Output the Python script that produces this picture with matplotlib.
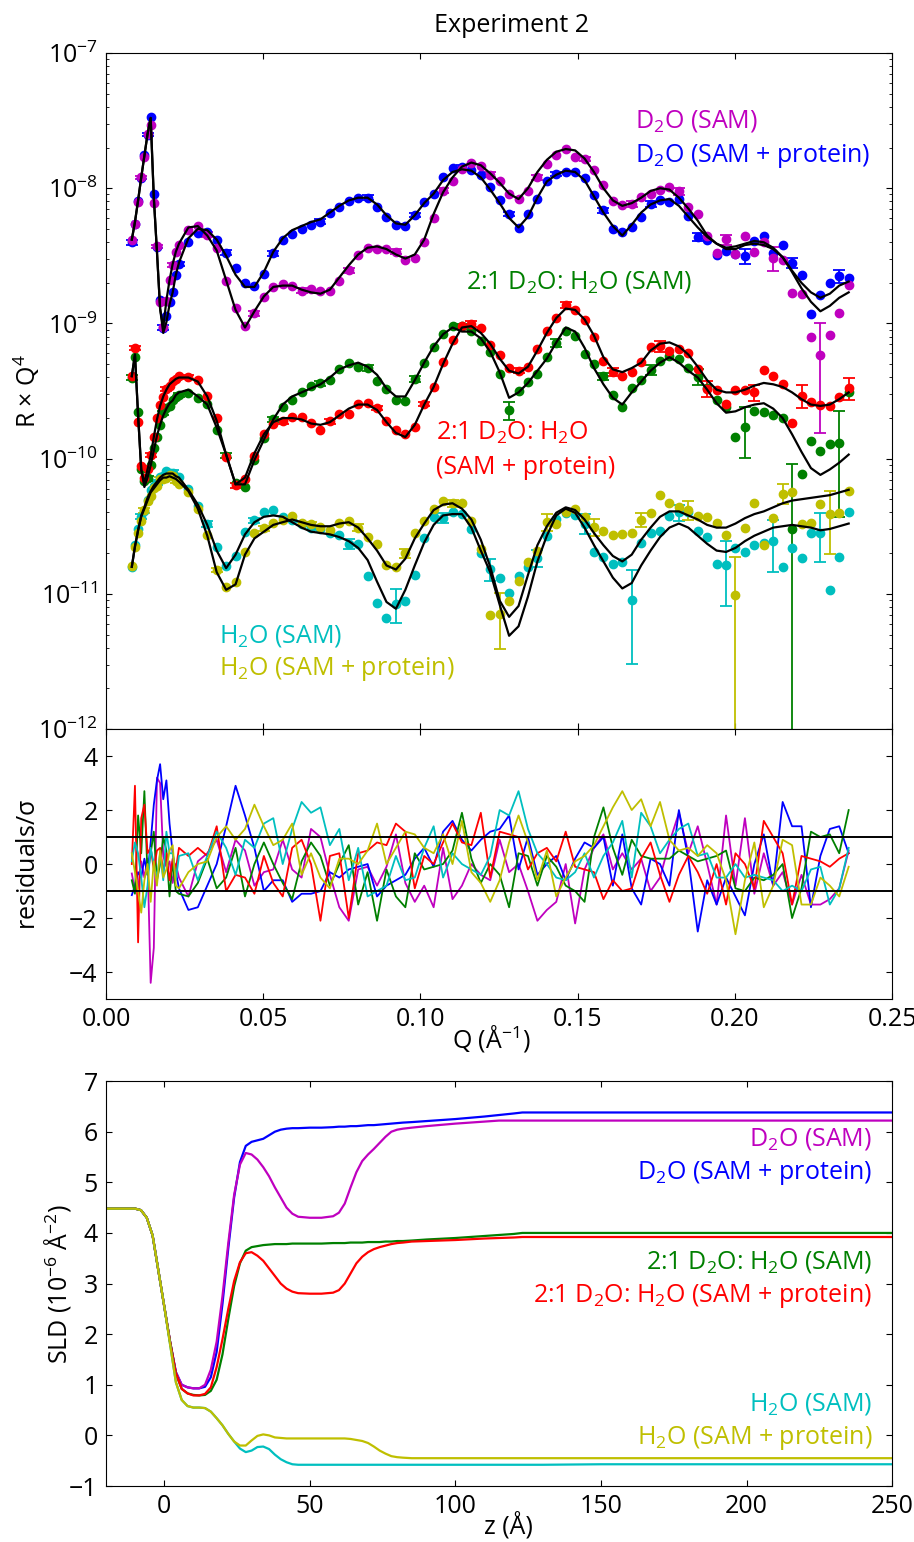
import matplotlib
matplotlib.use('agg')
import matplotlib.pyplot as plt
import numpy as np

plt.rcParams['font.family'] = ['Open Sans', 'DejaVu Sans']
plt.rcParams['mathtext.fontset'] = 'custom'
plt.rcParams['mathtext.rm'] = 'Open Sans'
plt.rcParams['mathtext.it'] = 'Open Sans:italic'
plt.rcParams['mathtext.bf'] = 'Open Sans:bold'
plt.rcParams['mathtext.default'] = 'regular'
plt.rcParams['font.size'] = 18
plt.rcParams['xtick.direction'] = 'in'
plt.rcParams['ytick.direction'] = 'in'
plt.rcParams['xtick.top'] = True
plt.rcParams['ytick.right'] = True
plt.rcParams['xtick.major.size'] = 4.5
plt.rcParams['ytick.major.size'] = 4.5
plt.rcParams['xtick.minor.size'] = 2.2
plt.rcParams['ytick.minor.size'] = 2.2
plt.rcParams['xtick.major.pad'] = 6
plt.rcParams['ytick.major.pad'] = 6

# ---------------- reflectivity data ----------------
Q = [0.0082, 0.0092, 0.0102, 0.0112, 0.0122, 0.0132, 0.0142, 0.0152, 0.0162, 0.0172,
     0.0182, 0.0192, 0.0202, 0.0212, 0.0222, 0.0232,
     0.0262, 0.0292, 0.0322, 0.0352, 0.0382, 0.0412, 0.0442, 0.0472, 0.0502, 0.0532,
     0.0562, 0.0592, 0.0622, 0.0652, 0.0682, 0.0712, 0.0742, 0.0772, 0.0802, 0.0832,
     0.0862, 0.0892, 0.0922, 0.0952, 0.0982, 0.1012, 0.1042, 0.1072, 0.1102, 0.1132,
     0.1162, 0.1192, 0.1222, 0.1252, 0.1282, 0.1312, 0.1342, 0.1372, 0.1402, 0.1432,
     0.1462, 0.1492, 0.1522, 0.1552, 0.1582, 0.1612, 0.1642, 0.1672, 0.1702, 0.1732,
     0.1762, 0.1792, 0.1822, 0.1852, 0.1882, 0.1912, 0.1942, 0.1972, 0.2002, 0.2032,
     0.2062, 0.2092, 0.2122, 0.2152, 0.2182, 0.2212, 0.2242, 0.2272, 0.2302, 0.2332,
     0.2362]

# log10 of fitted R x Q^4
fit_d2o_sam = [-8.38, -8.25, -8.09, -7.92, -7.76, -7.60, -7.48, -8.07, -8.47, -8.89,
               -9.03, -8.83, -8.68, -8.56, -8.47, -8.41,
               -8.29, -8.28, -8.35, -8.46, -8.68, -8.90, -9.03, -8.91, -8.80, -8.73,
               -8.72, -8.72, -8.75, -8.77, -8.78, -8.75, -8.66, -8.57, -8.49, -8.44,
               -8.43, -8.45, -8.49, -8.52, -8.49, -8.38, -8.19, -8.03, -7.92, -7.84,
               -7.81, -7.83, -7.89, -7.96, -8.04, -8.08, -8.00, -7.88, -7.79, -7.73,
               -7.71, -7.72, -7.78, -7.88, -8.00, -8.09, -8.13, -8.11, -8.07, -8.02,
               -8.00, -8.01, -8.07, -8.15, -8.24, -8.35, -8.41, -8.45, -8.45, -8.42,
               -8.41, -8.42, -8.45, -8.51, -8.62, -8.74, -8.84, -8.91, -8.87, -8.81,
               -8.77]
fit_d2o_prot = [-8.38, -8.25, -8.09, -7.92, -7.76, -7.60, -7.48, -8.07, -8.47, -8.89,
                -9.07, -8.99, -8.86, -8.77, -8.64, -8.55,
                -8.37, -8.30, -8.31, -8.38, -8.50, -8.64, -8.73, -8.73, -8.62, -8.47,
                -8.37, -8.31, -8.28, -8.25, -8.23, -8.18, -8.13, -8.09, -8.07, -8.07,
                -8.12, -8.20, -8.26, -8.27, -8.20, -8.11, -8.04, -7.94, -7.88, -7.86,
                -7.87, -7.92, -8.01, -8.11, -8.22, -8.29, -8.21, -8.07, -7.95, -7.90,
                -7.87, -7.88, -7.94, -8.06, -8.18, -8.28, -8.35, -8.27, -8.18, -8.12,
                -8.09, -8.08, -8.13, -8.21, -8.29, -8.36, -8.41, -8.44, -8.43, -8.41,
                -8.39, -8.40, -8.44, -8.51, -8.61, -8.70, -8.77, -8.81, -8.78, -8.72,
                -8.69]
fit_mix_sam = [-9.39, -9.23, -9.68, -10.08, -10.21, -10.14, -10.05, -9.94, -9.83, -9.75,
               -9.68, -9.63, -9.59, -9.57, -9.53, -9.51,
               -9.49, -9.54, -9.60, -9.77, -9.97, -10.19, -10.19, -10.01, -9.86, -9.71,
               -9.60, -9.54, -9.51, -9.48, -9.45, -9.40, -9.34, -9.31, -9.29, -9.32,
               -9.38, -9.48, -9.54, -9.54, -9.42, -9.29, -9.17, -9.08, -9.03, -9.06,
               -9.06, -9.11, -9.21, -9.36, -9.55, -9.51, -9.44, -9.35, -9.26, -9.14,
               -9.03, -9.06, -9.18, -9.33, -9.45, -9.55, -9.60, -9.51, -9.43, -9.35,
               -9.29, -9.25, -9.29, -9.35, -9.40, -9.49, -9.59, -9.66, -9.65, -9.62,
               -9.60, -9.59, -9.63, -9.70, -9.82, -9.95, -10.07, -10.12, -10.08, -10.03,
               -9.97]
fit_mix_prot = [-9.39, -9.23, -9.68, -10.08, -10.18, -10.08, -9.98, -9.84, -9.71, -9.61,
                -9.54, -9.49, -9.45, -9.43, -9.41, -9.40,
                -9.40, -9.43, -9.54, -9.72, -9.97, -10.19, -10.14, -9.96, -9.82, -9.73,
                -9.70, -9.70, -9.71, -9.74, -9.75, -9.73, -9.68, -9.63, -9.60, -9.60,
                -9.64, -9.73, -9.81, -9.84, -9.75, -9.60, -9.47, -9.30, -9.15, -9.03,
                -9.02, -9.07, -9.15, -9.26, -9.35, -9.37, -9.32, -9.20, -9.07, -8.96,
                -8.89, -8.90, -8.97, -9.09, -9.25, -9.34, -9.36, -9.33, -9.29, -9.20,
                -9.15, -9.14, -9.17, -9.23, -9.32, -9.42, -9.49, -9.51, -9.51, -9.49,
                -9.46, -9.44, -9.45, -9.47, -9.51, -9.56, -9.60, -9.61, -9.60, -9.56,
                -9.51]
fit_h2o_sam = [-10.80, -10.65, -10.53, -10.42, -10.36, -10.29, -10.24, -10.20, -10.17, -10.14,
               -10.12, -10.11, -10.11, -10.11, -10.13, -10.14,
               -10.23, -10.34, -10.49, -10.68, -10.81, -10.71, -10.56, -10.47, -10.43, -10.42,
               -10.43, -10.47, -10.51, -10.54, -10.55, -10.56, -10.58, -10.61, -10.66, -10.75,
               -10.91, -11.06, -11.11, -10.97, -10.79, -10.62, -10.49, -10.42, -10.41, -10.41,
               -10.51, -10.68, -10.84, -11.08, -11.31, -11.24, -11.02, -10.76, -10.57, -10.42,
               -10.37, -10.40, -10.51, -10.64, -10.76, -10.88, -10.96, -10.92, -10.79, -10.68,
               -10.58, -10.51, -10.48, -10.51, -10.57, -10.63, -10.68, -10.69, -10.66, -10.61,
               -10.57, -10.54, -10.51, -10.50, -10.49, -10.50, -10.51, -10.53, -10.52, -10.50,
               -10.48]
fit_h2o_prot = [-10.80, -10.65, -10.53, -10.43, -10.37, -10.31, -10.25, -10.22, -10.19, -10.16,
                -10.14, -10.14, -10.13, -10.14, -10.15, -10.17,
                -10.24, -10.37, -10.57, -10.84, -10.97, -10.93, -10.71, -10.59, -10.54, -10.49,
                -10.47, -10.45, -10.47, -10.49, -10.50, -10.50, -10.48, -10.47, -10.51, -10.59,
                -10.68, -10.79, -10.82, -10.74, -10.59, -10.48, -10.38, -10.34, -10.33, -10.37,
                -10.45, -10.60, -10.80, -11.05, -11.17, -11.09, -10.86, -10.64, -10.50, -10.40,
                -10.36, -10.38, -10.45, -10.55, -10.64, -10.72, -10.76, -10.71, -10.60, -10.51,
                -10.43, -10.39, -10.39, -10.42, -10.45, -10.49, -10.51, -10.51, -10.48, -10.44,
                -10.41, -10.39, -10.36, -10.33, -10.31, -10.30, -10.29, -10.28, -10.27, -10.25,
                -10.23]

# normalised residuals (data - fit) / sigma
res_d2o_sam = [-0.35, -1.0, -0.9, 0.1, -0.5, 0.2, -4.4, -3.1, 3.2, 3.0, 0.3, -0.1, 0.1, -0.7, 0.0, -0.5,
               -1.2, 0.1, 0.4, 0.9, -0.3, 0.9, 0.5, -0.8, -0.3, -0.2,
               0.9, -0.2, -0.5, 1.3, 1.0, -0.4, -1.6, -2.1, -0.2, -0.1,
               -0.8, -0.1, 1.1, -0.7, -1.4, -0.8, -1.6, 0.6, -1.3, -0.8,
               0.0, -0.4, -0.6, 0.9, -0.3, 0.0, -1.0, -2.1, -1.7, -1.4,
               0.0, -2.2, -0.2, 0.6, 1.1, -0.2, 0.4, -0.2, 0.2, -1.0,
               -0.5, 0.8, 1.9, 0.4, 1.4, 0.0, -1.5, 1.8, -0.8, 1.7,
               -1.1, 0.4, -0.8, -0.3, -1.5, -0.4, -1.5, -1.5, -1.3, -0.9,
               0.5]
res_d2o_prot = [-1.15, -0.8, -0.3, -0.5, 0.2, -0.4, 0.8, 2.2, 3.1, 3.7, 2.4, 3.1, 1.5, 0.4, -0.3, -0.9,
                -1.7, -1.6, -0.8, 0.0, 1.4, 2.9, 1.8, 0.6, -1.0, -0.6,
                -0.6, -1.4, -1.1, -1.1, -1.0, -0.3, -0.5, -0.2, -0.1, 0.0,
                -1.2, -0.8, -0.6, -0.4, 0.2, 0.6, -0.1, 1.2, 1.6, 0.9,
                0.5, 0.9, 1.2, 1.3, 1.8, -0.2, 1.0, -0.4, 0.0, 0.3,
                -0.6, 0.2, 0.8, 0.6, 1.0, -0.8, 1.1, -0.9, -1.5, 0.2,
                0.0, -0.8, 2.0, 0.2, -2.5, -0.6, -1.5, -0.5, -1.2, -1.9,
                0.0, 1.1, -0.8, 2.3, 1.4, 1.4, -1.6, 0.3, 1.3, 1.4,
                0.4]
res_mix_sam = [-0.6, -1.1, 1.8, 0.4, 2.7, -0.4, 0.4, 1.2, -0.6, 0.0, 1.0, 0.5, -1.2, 0.1, -1.0, -1.1,
               -1.2, -0.7, 0.2, -0.9, -0.5, 0.6, -1.2, 0.0, 0.8, 0.0,
               -0.7, -1.3, 0.1, 0.8, 0.3, -0.8, 0.0, 0.7, -1.5, -0.3,
               -2.1, -0.2, -1.2, -1.6, 0.4, -0.2, -0.1, 0.0, 0.5, 1.9,
               0.2, -0.7, 0.0, -0.4, -1.6, 0.4, 0.3, -0.8, 0.3, -0.1,
               -0.8, -1.0, -1.4, 1.0, 2.1, 0.6, -0.4, 0.9, 0.3, 0.2,
               0.2, 0.2, 0.5, 0.3, 0.1, 0.2, 0.3, 0.5, -0.9, -1.0,
               -0.5, -0.6, -0.4, 0.0, -2.0, -0.9, 1.2, 1.0, 1.1, 0.4,
               2.0]
res_mix_prot = [0.0, 2.9, -2.9, 1.7, 2.2, 0.4, 0.6, -0.2, 0.5, 0.6, -0.3, 0.4, -0.6, 0.2, -0.2, 0.6,
                0.3, 0.6, 0.3, 1.4, -1.0, -0.4, -0.5, -1.1, 0.3, -0.7,
                -1.2, 0.6, 0.9, 0.0, -2.1, 0.3, 0.4, -2.0, 0.4, 0.5,
                0.8, 0.7, 1.5, 1.2, -0.9, 0.3, 0.0, 0.8, 1.5, 0.8,
                0.7, 1.9, -0.5, 1.2, 1.1, 1.0, -0.2, 0.4, 0.6, 0.1,
                1.2, -0.1, -0.2, -0.3, -1.3, -0.6, -1.0, -0.9, 0.2, 0.8,
                -0.4, -1.4, -0.4, 0.3, -0.3, -1.1, 0.0, -1.5, 0.4, 0.0,
                -0.9, 1.6, 1.0, 0.4, -1.5, 0.3, 0.2, 0.1, -0.1, 0.2,
                0.4]
res_h2o_sam = [0.1, 0.8, 0.4, -0.5, -1.6, -0.8, 0.6, 0.0, -0.5, 0.4, -0.6, 1.2, 0.4, 0.4, -0.6, 0.3,
               0.4, -0.6, 0.3, 1.2, 0.6, -0.4, 0.9, 0.6, 1.5, 1.7,
               0.0, 1.3, 2.3, 1.9, 2.1, 0.7, 1.3, -0.6, 0.6, -1.2,
               -1.0, -0.8, 0.3, -0.6, -0.5, 0.6, 1.4, -0.5, 0.4, 0.0,
               -0.2, -0.4, 0.3, 2.0, 1.8, 2.7, 1.3, 0.4, 0.0, -0.5,
               -0.6, -0.3, 0.4, -0.5, 0.3, 0.8, 1.6, -0.5, 1.9, 1.4,
               0.4, 0.9, 1.3, 1.5, 0.3, 0.4, -0.5, -0.5, 0.0, -0.5,
               -0.4, -0.5, -0.6, -1.0, -0.8, -1.0, -0.2, -0.1, -1.5, -0.9,
               0.6]
res_h2o_prot = [0.4, -0.3, -1.0, -1.8, -0.6, 0.0, -1.4, 0.1, -0.8, 0.5, -0.5, -0.2, 0.5, 0.7, -0.8, -0.9,
                -0.3, 0.0, 0.1, 1.0, 1.4, 0.9, 1.3, 2.2, 1.4, 0.7,
                0.9, 1.5, -0.4, 0.4, -0.5, -0.9, 0.2, 0.2, 0.0, 0.5,
                1.5, 0.0, 0.6, 1.2, 1.1, 0.6, 0.4, 1.1, 0.0, 1.6,
                -0.3, -0.7, -1.4, -0.6, 0.8, 1.8, 0.8, -0.6, 0.5, -1.2,
                -0.5, 0.1, 0.3, 0.7, 1.4, 2.1, 2.7, 2.0, 2.4, 1.4,
                2.3, 0.9, 0.5, 0.6, 0.3, 0.7, 0.4, -0.6, -2.6, -0.6,
                0.8, -1.6, -0.8, 0.9, 0.7, -1.5, -1.5, -0.5, -0.8, -1.2,
                -0.1]

# relative uncertainty sigma / R
err_d2o_sam = [0.04, 0.035, 0.03, 0.03, 0.03, 0.025, 0.025, 0.03, 0.03, 0.04, 0.04, 0.035, 0.03, 0.03, 0.03, 0.03,
               0.04, 0.04, 0.04, 0.04, 0.04, 0.04, 0.04, 0.04, 0.04, 0.04,
               0.04, 0.04, 0.04, 0.04, 0.04, 0.04, 0.04, 0.04, 0.04, 0.04,
               0.045, 0.045, 0.045, 0.045, 0.045, 0.045, 0.045, 0.045, 0.045, 0.045,
               0.04, 0.04, 0.04, 0.04, 0.04, 0.04, 0.04, 0.04, 0.04, 0.04,
               0.045, 0.045, 0.04, 0.045, 0.05, 0.05, 0.05, 0.05, 0.05, 0.05,
               0.06, 0.06, 0.06, 0.07, 0.08, 0.09, 0.1, 0.1, 0.1, 0.1,
               0.12, 0.13, 0.17, 0.18, 0.2, 0.22, 0.3, 0.35, 0.3, 0.25,
               0.25]
err_d2o_prot = [0.04, 0.035, 0.03, 0.03, 0.03, 0.025, 0.025, 0.03, 0.03, 0.04, 0.04, 0.035, 0.03, 0.03, 0.03, 0.03,
                0.04, 0.04, 0.04, 0.04, 0.04, 0.04, 0.04, 0.04, 0.04, 0.04,
                0.04, 0.04, 0.04, 0.04, 0.04, 0.04, 0.04, 0.04, 0.04, 0.04,
                0.04, 0.04, 0.04, 0.04, 0.04, 0.04, 0.04, 0.04, 0.04, 0.04,
                0.04, 0.04, 0.04, 0.04, 0.04, 0.04, 0.04, 0.04, 0.04, 0.04,
                0.04, 0.04, 0.04, 0.04, 0.04, 0.05, 0.05, 0.05, 0.05, 0.05,
                0.06, 0.06, 0.06, 0.06, 0.06, 0.08, 0.12, 0.1, 0.1, 0.1,
                0.1, 0.1, 0.1, 0.1, 0.1, 0.1, 0.19, 0.15, 0.15, 0.13,
                0.15]
err_mix_sam = [0.04, 0.04, 0.035, 0.035, 0.04, 0.035, 0.035, 0.035, 0.035, 0.035, 0.035, 0.035, 0.035, 0.035, 0.035, 0.035,
               0.04, 0.04, 0.04, 0.04, 0.04, 0.04, 0.04, 0.04, 0.04, 0.04,
               0.05, 0.05, 0.05, 0.05, 0.05, 0.05, 0.05, 0.05, 0.05, 0.05,
               0.05, 0.05, 0.05, 0.05, 0.05, 0.05, 0.05, 0.05, 0.05, 0.05,
               0.06, 0.06, 0.06, 0.06, 0.12, 0.07, 0.07, 0.07, 0.07, 0.07,
               0.07, 0.07, 0.07, 0.07, 0.07, 0.09, 0.09, 0.09, 0.09, 0.09,
               0.12, 0.12, 0.13, 0.14, 0.14, 0.15, 0.18, 0.2, 0.39, 0.29,
               0.2, 0.22, 0.24, 0.25, 0.4, 0.35, 0.5, 0.5, 0.5, 1.0,
               0.95]
err_mix_prot = [0.04, 0.04, 0.035, 0.035, 0.04, 0.035, 0.035, 0.035, 0.035, 0.035, 0.035, 0.035, 0.035, 0.035, 0.035, 0.035,
                0.04, 0.04, 0.04, 0.04, 0.04, 0.04, 0.04, 0.04, 0.04, 0.04,
                0.04, 0.04, 0.04, 0.04, 0.04, 0.04, 0.04, 0.04, 0.04, 0.04,
                0.04, 0.04, 0.04, 0.04, 0.04, 0.04, 0.04, 0.04, 0.04, 0.04,
                0.05, 0.05, 0.05, 0.05, 0.05, 0.05, 0.05, 0.05, 0.05, 0.05,
                0.05, 0.05, 0.05, 0.05, 0.05, 0.07, 0.07, 0.07, 0.07, 0.07,
                0.09, 0.1, 0.1, 0.1, 0.11, 0.12, 0.12, 0.12, 0.12, 0.12,
                0.12, 0.15, 0.15, 0.15, 0.27, 0.21, 0.2, 0.2, 0.2, 0.2,
                0.2]
err_h2o_sam = [0.04, 0.04, 0.04, 0.04, 0.04, 0.04, 0.04, 0.04, 0.04, 0.04, 0.04, 0.04, 0.04, 0.04, 0.04, 0.04,
               0.05, 0.05, 0.05, 0.05, 0.05, 0.05, 0.05, 0.05, 0.055, 0.055,
               0.03, 0.03, 0.03, 0.03, 0.03, 0.03, 0.03, 0.08, 0.12, 0.2,
               0.3, 0.3, 0.3, 0.3, 0.3, 0.12, 0.1, 0.08, 0.08, 0.08,
               0.1, 0.12, 0.2, 0.29, 0.6, 0.5, 0.5, 0.16, 0.12, 0.12,
               0.12, 0.14, 0.18, 0.22, 0.28, 0.32, 0.35, 0.5, 0.25, 0.25,
               0.25, 0.25, 0.16, 0.2, 0.25, 0.3, 0.4, 0.4, 0.35, 0.35,
               0.35, 0.35, 0.33, 0.5, 0.4, 0.42, 0.4, 0.38, 0.43, 0.45,
               0.35]
err_h2o_prot = [0.04, 0.04, 0.04, 0.04, 0.04, 0.04, 0.04, 0.04, 0.04, 0.04, 0.04, 0.04, 0.04, 0.04, 0.04, 0.04,
                0.04, 0.04, 0.04, 0.04, 0.04, 0.04, 0.04, 0.04, 0.04, 0.04,
                0.04, 0.04, 0.04, 0.04, 0.04, 0.06, 0.06, 0.06, 0.06, 0.06,
                0.08, 0.08, 0.08, 0.08, 0.08, 0.06, 0.06, 0.06, 0.06, 0.06,
                0.1, 0.2, 0.4, 0.35, 0.4, 0.3, 0.3, 0.15, 0.15, 0.15,
                0.15, 0.15, 0.15, 0.16, 0.2, 0.2, 0.22, 0.22, 0.17, 0.2,
                0.2, 0.18, 0.17, 0.17, 0.2, 0.2, 0.2, 0.2, 0.27, 0.25,
                0.25, 0.27, 0.2, 0.2, 0.23, 0.23, 0.23, 0.25, 0.35, 0.25,
                0.25]

# ---------------- SLD profiles ----------------
z = [-20, -15, -10, -8, -6, -4, -2, 0, 2, 4, 6, 8, 10, 12, 14, 16, 18, 20, 22, 24,
     26, 28, 30, 32, 34, 36, 38, 40, 42, 44, 46, 50, 54, 58, 60, 62, 64, 66, 68, 70,
     72, 74, 76, 78, 80, 82, 85, 90, 100, 110, 115, 120, 123, 130, 150, 200, 250]

sld_d2o_sam = [4.48, 4.48, 4.48, 4.45, 4.3, 3.95, 3.25, 2.55, 1.85, 1.25, 1.0, 0.95, 0.93, 0.93, 1.0, 1.3, 1.85, 2.75, 3.8, 4.75,
               5.35, 5.58, 5.55, 5.45, 5.3, 5.12, 4.9, 4.7, 4.5, 4.38, 4.32, 4.3, 4.3, 4.33, 4.4, 4.58, 4.9, 5.2, 5.42, 5.55,
               5.66, 5.78, 5.9, 6.0, 6.04, 6.06, 6.08, 6.11, 6.16, 6.2, 6.22, 6.22, 6.22, 6.22, 6.22, 6.22, 6.22]
sld_d2o_prot = [4.48, 4.48, 4.48, 4.45, 4.3, 3.95, 3.25, 2.55, 1.85, 1.25, 1.0, 0.95, 0.93, 0.93, 0.96, 1.15, 1.65, 2.6, 3.7, 4.7,
                5.4, 5.72, 5.8, 5.83, 5.86, 5.93, 6.0, 6.04, 6.06, 6.07, 6.07, 6.08, 6.08, 6.09, 6.1, 6.1, 6.11, 6.11, 6.12, 6.13,
                6.13, 6.14, 6.15, 6.16, 6.17, 6.18, 6.19, 6.21, 6.25, 6.3, 6.33, 6.36, 6.38, 6.38, 6.38, 6.38, 6.38]
sld_mix_sam = [4.48, 4.48, 4.48, 4.45, 4.3, 3.95, 3.25, 2.55, 1.85, 1.22, 0.92, 0.83, 0.8, 0.79, 0.8, 0.88, 1.1, 1.6, 2.3, 2.95,
               3.4, 3.65, 3.72, 3.74, 3.76, 3.77, 3.78, 3.78, 3.78, 3.79, 3.79, 3.79, 3.79, 3.8, 3.8, 3.8, 3.81, 3.81, 3.81, 3.82,
               3.82, 3.82, 3.83, 3.83, 3.84, 3.84, 3.85, 3.87, 3.9, 3.94, 3.96, 3.98, 4.0, 4.0, 4.0, 4.0, 4.0]
sld_mix_prot = [4.48, 4.48, 4.48, 4.45, 4.3, 3.95, 3.25, 2.55, 1.85, 1.22, 0.92, 0.83, 0.79, 0.79, 0.82, 0.95, 1.35, 1.9, 2.5, 3.05,
                3.42, 3.6, 3.62, 3.55, 3.45, 3.3, 3.15, 3.0, 2.9, 2.84, 2.81, 2.8, 2.8, 2.82, 2.87, 3.0, 3.2, 3.4, 3.53, 3.62,
                3.68, 3.72, 3.75, 3.78, 3.8, 3.81, 3.83, 3.84, 3.86, 3.89, 3.9, 3.91, 3.92, 3.92, 3.92, 3.92, 3.92]
sld_h2o_sam = [4.48, 4.48, 4.48, 4.45, 4.3, 3.95, 3.25, 2.55, 1.8, 1.05, 0.7, 0.58, 0.55, 0.55, 0.54, 0.47, 0.34, 0.2, 0.03, -0.12,
               -0.26, -0.33, -0.3, -0.23, -0.22, -0.27, -0.38, -0.47, -0.53, -0.57, -0.58, -0.58, -0.58, -0.58, -0.58, -0.58, -0.58, -0.58, -0.58, -0.58,
               -0.58, -0.58, -0.58, -0.58, -0.58, -0.58, -0.58, -0.58, -0.58, -0.58, -0.58, -0.58, -0.58, -0.58, -0.57, -0.57, -0.57]
sld_h2o_prot = [4.48, 4.48, 4.48, 4.45, 4.3, 3.95, 3.25, 2.55, 1.8, 1.05, 0.7, 0.58, 0.55, 0.55, 0.54, 0.47, 0.34, 0.2, 0.03, -0.12,
                -0.2, -0.2, -0.1, -0.01, 0.02, 0.0, -0.04, -0.05, -0.06, -0.06, -0.06, -0.06, -0.06, -0.06, -0.06, -0.06, -0.07, -0.09, -0.11, -0.15,
                -0.22, -0.3, -0.36, -0.41, -0.43, -0.44, -0.45, -0.45, -0.45, -0.45, -0.45, -0.45, -0.45, -0.45, -0.45, -0.45, -0.45]

datasets = [
    # fit, residuals, rel. error, colour, errorbar offset
    (fit_d2o_prot, res_d2o_prot, err_d2o_prot, 'b', 0),
    (fit_d2o_sam, res_d2o_sam, err_d2o_sam, 'm', 3),
    (fit_mix_sam, res_mix_sam, err_mix_sam, 'g', 0),
    (fit_mix_prot, res_mix_prot, err_mix_prot, 'r', 1),
    (fit_h2o_sam, res_h2o_sam, err_h2o_sam, 'c', 3),
    (fit_h2o_prot, res_h2o_prot, err_h2o_prot, 'y', 4),
]

fig = plt.figure(figsize=(9.14, 15.42), dpi=100)
ax1 = fig.add_axes([0.116, 0.5272, 0.860, 0.4384])
ax2 = fig.add_axes([0.116, 0.3521, 0.860, 0.1751])
ax3 = fig.add_axes([0.116, 0.0363, 0.860, 0.2626])

q = np.array(Q)
for fit_log, res, err, col, off in datasets:
    fit = 10 ** np.array(fit_log)
    sig = fit * np.array(err)
    data = fit + np.array(res) * sig
    ax1.errorbar(q, data, yerr=sig, fmt='o', color=col, mec=col, ms=6,
                 elinewidth=1.3, capsize=4, capthick=1.3, errorevery=(off, 5), zorder=2)
for fit_log, res, err, col, off in datasets:
    ax1.plot(q, 10 ** np.array(fit_log), color='k', lw=1.6, zorder=3)

ax1.set_yscale('log')
ax1.set_ylim(1e-12, 1e-7)
ax1.set_xlim(0, 0.25)
ax1.set_xticks([0, 0.05, 0.10, 0.15, 0.20, 0.25])
ax1.tick_params(axis='x', labelbottom=False)
ax1.set_ylabel(r'R $\times$ Q$^4$')
ax1.yaxis.set_label_coords(-0.081, 0.5)

ax1.text(0.673, 0.8905, r'D$_2$O (SAM)', color='m', transform=ax1.transAxes, va='baseline')
ax1.text(0.673, 0.839, r'D$_2$O (SAM + protein)', color='b', transform=ax1.transAxes, va='baseline')
ax1.text(0.458, 0.652, r'2:1 D$_2$O: H$_2$O (SAM)', color='g', transform=ax1.transAxes, va='baseline')
ax1.text(0.42, 0.4275, r'2:1 D$_2$O: H$_2$O', color='r', transform=ax1.transAxes, va='baseline')
ax1.text(0.42, 0.378, '(SAM + protein)', color='r', transform=ax1.transAxes, va='baseline')
ax1.text(0.144, 0.1277, r'H$_2$O (SAM)', color='c', transform=ax1.transAxes, va='baseline')
ax1.text(0.144, 0.0799, r'H$_2$O (SAM + protein)', color='y', transform=ax1.transAxes, va='baseline')

# residual panel
for fit_log, res, err, col, off in [datasets[1], datasets[0], datasets[2], datasets[3], datasets[4], datasets[5]]:
    ax2.plot(q, res, color=col, lw=1.3)
ax2.axhline(1, color='k', lw=1.4)
ax2.axhline(-1, color='k', lw=1.4)
ax2.set_xlim(0, 0.25)
ax2.set_ylim(-5, 5)
ax2.set_yticks([-4, -2, 0, 2, 4])
ax2.set_xticks([0, 0.05, 0.10, 0.15, 0.20, 0.25])
ax2.set_ylabel(r'residuals/$\sigma$')
ax2.yaxis.set_label_coords(-0.083, 0.5)
ax2.set_xlabel(r'Q (Å$^{-1}$)')
ax2.xaxis.set_label_coords(0.49, -0.09)

# SLD panel
for prof, col in [(sld_d2o_prot, 'b'), (sld_d2o_sam, 'm'), (sld_mix_sam, 'g'),
                  (sld_mix_prot, 'r'), (sld_h2o_sam, 'c'), (sld_h2o_prot, 'y')]:
    ax3.plot(z, prof, color=col, lw=1.6)
ax3.set_xlim(-20, 250)
ax3.set_ylim(-1, 7)
ax3.set_xticks([0, 50, 100, 150, 200, 250])
ax3.set_yticks(range(-1, 8))
ax3.set_ylabel(r'SLD (10$^{-6}$ Å$^{-2}$)')
ax3.yaxis.set_label_coords(-0.042, 0.5)
ax3.set_xlabel('z (Å)')
ax3.xaxis.set_label_coords(0.512, -0.063)

ax3.text(0.9746, 0.842, r'D$_2$O (SAM)', color='m', transform=ax3.transAxes, ha='right', va='baseline')
ax3.text(0.9746, 0.758, r'D$_2$O (SAM + protein)', color='b', transform=ax3.transAxes, ha='right', va='baseline')
ax3.text(0.9746, 0.5375, r'2:1 D$_2$O: H$_2$O (SAM)', color='g', transform=ax3.transAxes, ha='right', va='baseline')
ax3.text(0.9746, 0.455, r'2:1 D$_2$O: H$_2$O (SAM + protein)', color='r', transform=ax3.transAxes, ha='right', va='baseline')
ax3.text(0.9746, 0.1877, r'H$_2$O (SAM)', color='c', transform=ax3.transAxes, ha='right', va='baseline')
ax3.text(0.9746, 0.103, r'H$_2$O (SAM + protein)', color='y', transform=ax3.transAxes, ha='right', va='baseline')

fig.text(512 / 914, 1 - 31.7 / 1542, 'Experiment 2', ha='center', va='baseline')

plt.savefig('out.png', dpi=100)
plt.close()
